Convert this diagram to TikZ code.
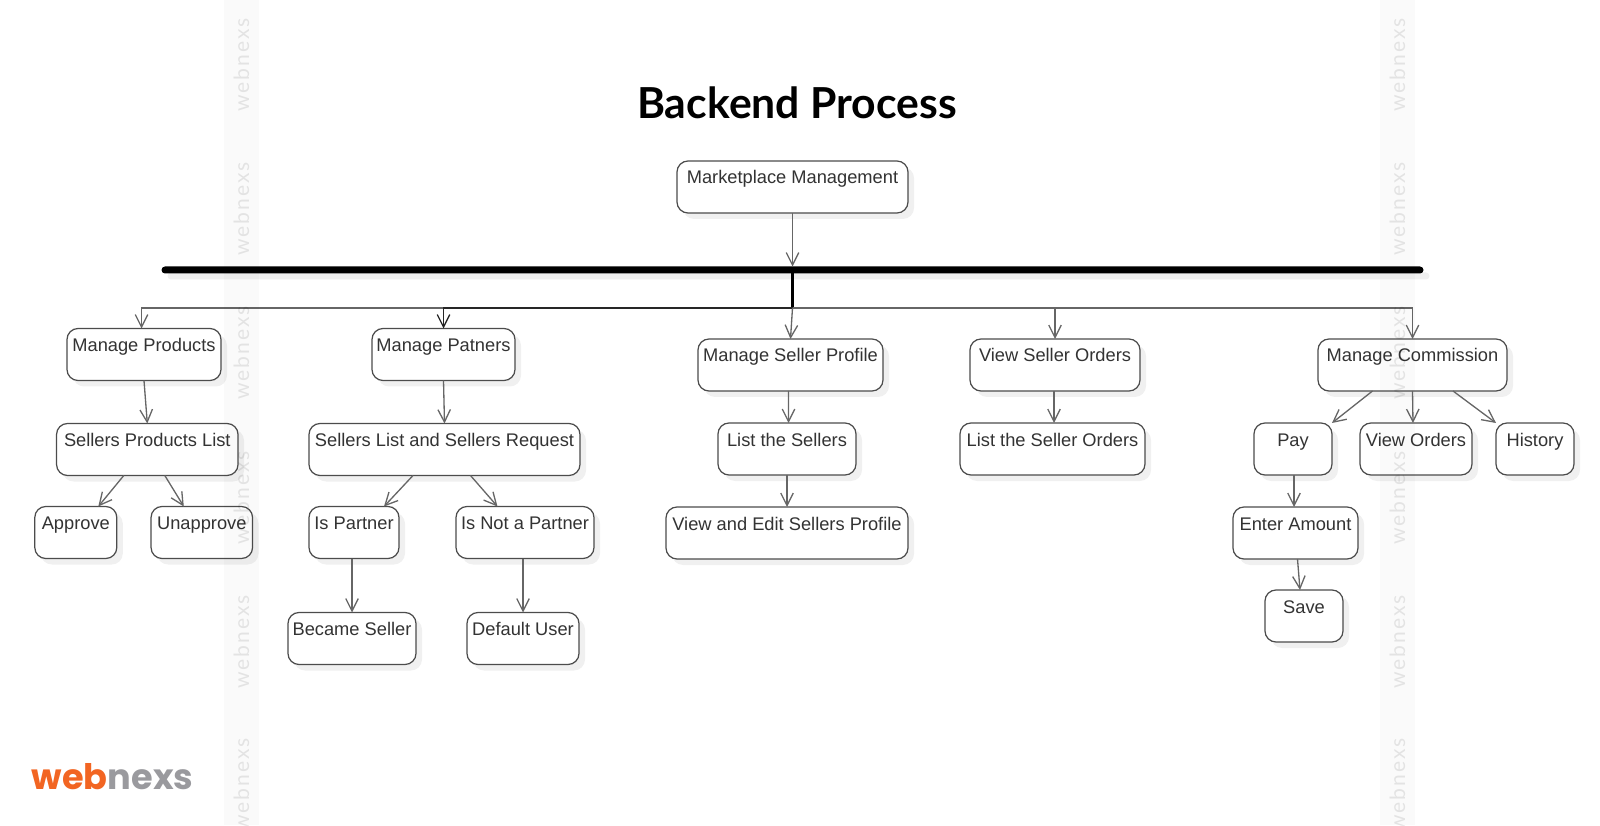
\documentclass[tikz,border=0pt]{standalone}
\usepackage{fontspec}
\setmainfont{Liberation Sans}
\newfontfamily\titlefont{Lato}
\newfontfamily\logofont{Poppins}
\newfontfamily\markfont[LetterSpace=9]{Lato}
\usetikzlibrary{arrows.meta,positioning,shadows}
\definecolor{logoorange}{HTML}{F26522}
\definecolor{logogray}{HTML}{9A9A9E}
\definecolor{boxtext}{HTML}{333333}

\begin{document}
\begin{tikzpicture}[
    every node/.style={font=\fontsize{10.4}{12}\selectfont},
    softshadow/.style={drop shadow={shadow xshift=0.12cm, shadow yshift=-0.12cm, fill=black!6, opacity=1}},
    box/.style={draw=black!70, line width=0.7pt, fill=white, rounded corners=0.22cm, softshadow, text=boxtext, inner xsep=0pt, inner ysep=0pt, outer sep=0pt, text height=0.46cm, text depth=0.58cm, align=center},
    bar/.style={fill=black, rounded corners=0.07cm, inner sep=0pt, outer sep=0pt, minimum width=25.24cm, minimum height=0.14cm, softshadow},
    flow/.style={-{Straight Barb[length=2.5mm, width=2.5mm]}, draw=black!60, line width=0.75pt},
    strip/.style={fill=black, opacity=0.018, inner sep=0pt, minimum width=0.7cm, minimum height=16.5cm},
    brand/.style={rotate=90, text=black, text opacity=0.09, font=\markfont\fontsize{12}{14}\selectfont}
]
\useasboundingbox (0,0) rectangle (32,16.5);
\node[font=\titlefont\bfseries\fontsize{24.3}{28}\selectfont] (title) at (15.94,14.44) {Backend Process};
\node[box, minimum width=4.62cm] (market) at (15.85,12.76) {Marketplace Management};
\node[bar] (rail) at (15.85,11.1) {};
\coordinate (hub) at (15.85,10.34);

\node[box, minimum width=3.08cm] (products) at (2.88,9.41) {Manage Products};
\node[box, minimum width=3.63cm, below=0.86cm of products, xshift=0.066cm] (productlist) {Sellers Products List};
\node[box, minimum width=1.64cm, below=0.62cm of productlist, xshift=-1.43cm] (approve) {Approve};
\node[box, minimum width=2.03cm, below=0.62cm of productlist, xshift=1.09cm] (unapprove) {Unapprove};

\node[box, minimum width=2.86cm] (partners) at (8.87,9.41) {Manage Patners};
\node[box, minimum width=5.42cm, below=0.86cm of partners, xshift=0.02cm] (requests) {Sellers List and Sellers Request};
\node[box, minimum width=1.8cm, below=0.62cm of requests, xshift=-1.81cm] (ispartner) {Is Partner};
\node[box, minimum width=2.76cm, below=0.62cm of requests, xshift=1.61cm] (notpartner) {Is Not a Partner};
\node[box, minimum width=2.56cm, below=1.08cm of ispartner, xshift=-0.04cm] (became) {Became Seller};
\node[box, minimum width=2.24cm, below=1.08cm of notpartner, xshift=-0.04cm] (defaultuser) {Default User};

\node[box, minimum width=3.7cm] (profile) at (15.81,9.2) {Manage Seller Profile};
\node[box, minimum width=2.76cm, below=0.64cm of profile, xshift=-0.07cm] (sellers) {List the Sellers};
\node[box, minimum width=4.84cm, below=0.64cm of sellers] (editprofile) {View and Edit Sellers Profile};

\node[box, minimum width=3.4cm] (sellerorders) at (21.1,9.2) {View Seller Orders};
\node[box, minimum width=3.7cm, below=0.64cm of sellerorders, xshift=-0.05cm] (orderlist) {List the Seller Orders};

\node[box, minimum width=3.78cm] (commission) at (28.25,9.2) {Manage Commission};
\node[box, minimum width=1.56cm, below=0.64cm of commission, xshift=-2.39cm] (pay) {Pay};
\node[box, minimum width=2.24cm, below=0.64cm of commission, xshift=0.07cm] (vieworders) {View Orders};
\node[box, minimum width=1.56cm, below=0.64cm of commission, xshift=2.45cm] (history) {History};
\node[box, minimum width=2.5cm, below=0.64cm of pay, xshift=0.05cm] (amount) {Enter Amount};
\node[box, minimum width=1.56cm, below=0.62cm of amount, xshift=0.17cm] (save) {Save};

\draw[flow] (market.south) -- (rail.north);
\draw[black, line width=1.2pt] (rail.south) -- (hub);
\draw[flow] (hub) -| ([xshift=-0.05cm]products.north);
\draw[flow, draw=black!85] (hub) -| (partners.north);
\draw[flow] (hub) -- (profile.north);
\draw[flow] (hub) -| (sellerorders.north);
\draw[flow] (hub) -| (commission.north);

\draw[flow] (products.south) -- (productlist.north);
\draw[flow] ([xshift=-0.47cm]productlist.south) -- ([xshift=0.45cm]approve.north);
\draw[flow] ([xshift=0.35cm]productlist.south) -- ([xshift=-0.36cm]unapprove.north);

\draw[flow] (partners.south) -- (requests.north);
\draw[flow] ([xshift=-0.63cm]requests.south) -- ([xshift=0.6cm]ispartner.north);
\draw[flow] ([xshift=0.52cm]requests.south) -- ([xshift=-0.55cm]notpartner.north);
\draw[flow] ([xshift=-0.04cm]ispartner.south) -- (became.north);
\draw[flow] ([xshift=-0.04cm]notpartner.south) -- (defaultuser.north);

\draw[flow] ([xshift=-0.04cm]profile.south) -- ([xshift=0.03cm]sellers.north);
\draw[flow] (sellers.south) -- (editprofile.north);
\draw[flow] ([xshift=-0.02cm]sellerorders.south) -- ([xshift=0.03cm]orderlist.north);

\draw[flow] ([xshift=-0.8cm]commission.south) -- (pay.north east);
\draw[flow] (commission.south) -- ([xshift=-0.06cm]vieworders.north);
\draw[flow] ([xshift=0.81cm]commission.south) -- (history.north west);
\draw[flow] ([xshift=0.02cm]pay.south) -- ([xshift=-0.03cm]amount.north);
\draw[flow] ([xshift=0.04cm]amount.south) -- ([xshift=-0.08cm]save.north);

\node[strip] (stripleft) at (4.83,8.25) {};
\node[strip] (stripright) at (27.95,8.25) {};
\foreach \i/\ypos in {1/15.2,2/12.32,3/9.44,4/6.54,5/3.66,6/0.8}{
    \node[brand] (markleft\i) at (4.83,\ypos) {webnexs};
    \node[brand] (markright\i) at (27.95,\ypos) {webnexs};
}
\node[anchor=west, inner sep=0pt, font=\logofont\bfseries\fontsize{20}{24}\selectfont] (logo) at (0.63,0.96) {\textcolor{logoorange}{web}\textcolor{logogray}{nexs}};
\end{tikzpicture}
\end{document}
